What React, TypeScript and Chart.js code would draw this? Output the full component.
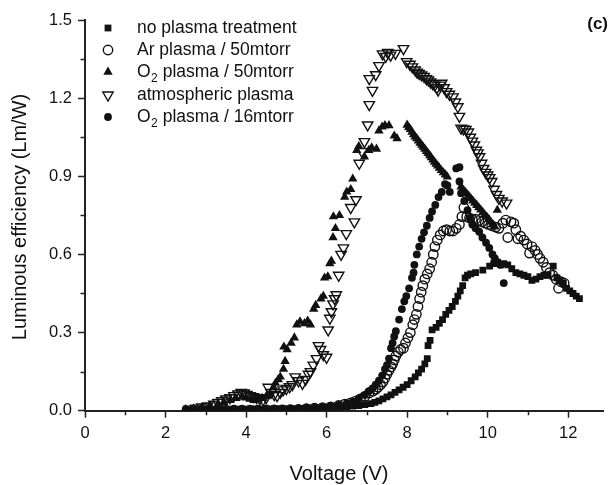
import React, { useEffect, useRef } from "react";
import { Chart, registerables } from "chart.js";
import { drawPoint } from "chart.js/helpers";

Chart.register(...registerables);

// ---- data: [voltage (V), luminous efficiency (Lm/W)] ----
const NO_PLASMA: [number, number][] = [
  [2.6,0.004],[2.75,0.004],[2.9,0.005],[3.05,0.005],[3.2,0.005],[3.35,0.005],[3.5,0.006],[3.65,0.006],[3.8,0.006],[3.95,0.006],
  [4.1,0.006],[4.25,0.007],[4.4,0.007],[4.55,0.007],[4.7,0.007],[4.85,0.008],[5.0,0.008],[5.15,0.008],[5.3,0.009],[5.45,0.009],
  [5.6,0.010],[5.75,0.010],[5.9,0.011],[6.05,0.012],[6.2,0.013],[6.35,0.014],[6.5,0.016],[6.65,0.018],[6.8,0.020],[6.95,0.023],
  [7.1,0.027],[7.2,0.032],[7.3,0.038],[7.4,0.045],[7.5,0.053],[7.6,0.061],[7.7,0.07],[7.8,0.08],[7.9,0.09],[8.0,0.1],
  [8.1,0.115],[8.2,0.13],[8.28,0.145],[8.36,0.16],[8.44,0.18],[8.5,0.2],[8.52,0.25],[8.57,0.27],[8.62,0.31],[8.72,0.32],
  [8.8,0.335],[8.88,0.35],[8.96,0.37],[9.04,0.385],[9.12,0.4],[9.2,0.42],[9.26,0.44],[9.32,0.46],[9.38,0.48],[9.44,0.51],
  [9.5,0.52],[9.58,0.525],[9.7,0.53],[9.88,0.54],[10.05,0.555],[10.15,0.565],[10.25,0.57],[10.32,0.56],[10.4,0.565],[10.5,0.56],
  [10.6,0.545],[10.7,0.53],[10.8,0.525],[10.9,0.52],[11.0,0.515],[11.1,0.5],[11.2,0.505],[11.3,0.515],[11.4,0.52],[11.5,0.52],
  [11.63,0.555],[11.72,0.51],[11.8,0.5],[11.88,0.49],[11.96,0.47],[12.04,0.46],[12.12,0.45],[12.2,0.44],[12.28,0.43],
];

const AR_50: [number, number][] = [
  [5.5,0.008],[5.7,0.01],[5.9,0.012],[6.1,0.015],[6.3,0.02],[6.45,0.025],[6.6,0.03],[6.72,0.037],[6.84,0.045],[6.95,0.055],
  [7.06,0.068],[7.15,0.075],[7.22,0.082],[7.28,0.09],[7.34,0.1],[7.4,0.11],[7.45,0.125],[7.5,0.14],[7.55,0.155],[7.6,0.168],
  [7.64,0.18],[7.68,0.195],[7.72,0.21],[7.78,0.225],[7.84,0.235],[7.91,0.24],[7.96,0.26],[8.02,0.28],[8.08,0.3],[8.14,0.33],
  [8.18,0.35],[8.23,0.37],[8.27,0.4],[8.31,0.43],[8.35,0.455],[8.39,0.48],[8.44,0.505],[8.5,0.525],[8.56,0.545],[8.61,0.57],
  [8.65,0.6],[8.69,0.63],[8.75,0.655],[8.82,0.675],[8.9,0.69],[8.98,0.695],[9.06,0.69],[9.14,0.69],[9.22,0.7],[9.3,0.715],
  [9.36,0.745],[9.41,0.78],[9.48,0.745],[9.55,0.74],[9.62,0.735],[9.7,0.735],[9.78,0.73],[9.86,0.725],[9.94,0.72],[10.02,0.715],
  [10.1,0.71],[10.2,0.705],[10.28,0.7],[10.38,0.72],[10.45,0.732],[10.5,0.665],[10.58,0.725],[10.65,0.72],[10.7,0.695],[10.75,0.66],
  [10.82,0.67],[10.9,0.655],[10.98,0.64],[11.04,0.605],[11.1,0.63],[11.18,0.615],[11.24,0.6],[11.3,0.585],[11.38,0.57],[11.46,0.55],
  [11.54,0.53],[11.62,0.52],[11.7,0.505],[11.76,0.47],[11.82,0.495],[11.9,0.49],
];

const O2_50: [number, number][] = [
  [2.5,0.005],[2.7,0.008],[2.9,0.012],[3.1,0.018],[3.3,0.025],[3.45,0.032],[3.6,0.04],[3.75,0.048],[3.9,0.052],[4.0,0.05],
  [4.1,0.045],[4.2,0.04],[4.3,0.042],[4.4,0.048],[4.5,0.055],[4.6,0.065],[4.68,0.09],[4.73,0.106],[4.8,0.12],[4.85,0.13],
  [4.93,0.16],[4.97,0.19],[4.94,0.245],[5.02,0.235],[5.12,0.26],[5.2,0.28],[5.26,0.33],[5.34,0.342],[5.45,0.335],[5.53,0.345],
  [5.6,0.33],[5.68,0.39],[5.73,0.405],[5.86,0.43],[5.92,0.44],[5.95,0.51],[6.03,0.515],[6.08,0.565],[6.12,0.575],[6.16,0.665],
  [6.22,0.7],[6.17,0.745],[6.32,0.75],[6.45,0.82],[6.5,0.84],[6.6,0.85],[6.65,0.89],[6.75,1.0],[6.8,1.015],[6.94,0.975],
  [7.05,1.0],[7.12,1.01],[7.24,1.005],[7.3,1.075],[7.38,1.09],[7.45,1.095],[7.55,1.095],[7.68,1.055],[7.75,1.045],
  [8.0,1.097],[8.04,1.088],[8.08,1.08],[8.12,1.07],[8.16,1.06],[8.2,1.052],[8.24,1.045],[8.28,1.036],[8.32,1.028],[8.36,1.02],
  [8.4,1.012],[8.44,1.005],[8.48,0.996],[8.52,0.988],[8.56,0.98],[8.6,0.972],[8.64,0.963],[8.68,0.955],[8.72,0.947],[8.76,0.94],
  [8.8,0.932],[8.85,0.923],[8.9,0.914],[8.95,0.906],[9.0,0.898],
  [9.34,0.86],[9.38,0.85],[9.43,0.842],[9.48,0.833],[9.53,0.825],[9.58,0.815],[9.63,0.806],[9.68,0.797],[9.73,0.789],[9.78,0.78],
  [9.83,0.771],[9.88,0.762],[9.93,0.752],[9.98,0.744],[10.03,0.735],[10.08,0.725],[10.13,0.715],[10.18,0.706],[10.24,0.77],
];

const ATMOSPHERIC: [number, number][] = [
  [2.6,0.006],[2.75,0.01],[2.9,0.014],[3.05,0.018],[3.2,0.025],[3.3,0.032],[3.4,0.038],[3.5,0.045],[3.6,0.05],[3.7,0.058],
  [3.8,0.064],[3.88,0.07],[3.95,0.068],[4.02,0.062],[4.1,0.058],[4.18,0.054],[4.26,0.05],[4.34,0.046],[4.42,0.042],[4.5,0.05],
  [4.55,0.09],[4.62,0.07],[4.7,0.062],[4.77,0.058],[4.85,0.07],[4.92,0.08],[5.0,0.085],[5.08,0.092],[5.15,0.1],[5.22,0.13],
  [5.3,0.115],[5.4,0.105],[5.48,0.12],[5.55,0.14],[5.6,0.15],[5.67,0.175],[5.75,0.2],[5.8,0.25],[5.85,0.235],[5.92,0.215],
  [6.0,0.205],[6.04,0.31],[6.08,0.355],[6.12,0.38],[6.16,0.41],[6.2,0.43],[6.24,0.445],[6.3,0.52],[6.36,0.6],[6.42,0.625],
  [6.49,0.68],[6.6,0.78],[6.69,0.725],[6.73,0.81],[6.81,0.95],[6.88,0.995],[6.94,1.033],[7.02,1.097],[7.06,1.175],[7.14,1.23],
  [7.06,1.275],[7.22,1.29],[7.3,1.325],[7.39,1.37],[7.47,1.36],[7.52,1.375],[7.59,1.365],[7.71,1.372],[7.91,1.39],[7.99,1.34],
  [8.07,1.33],[8.13,1.32],[8.2,1.308],[8.25,1.3],[8.3,1.295],[8.36,1.289],[8.42,1.283],[8.48,1.275],[8.53,1.27],[8.58,1.262],
  [8.64,1.255],[8.69,1.25],[8.74,1.24],[8.77,1.231],[8.82,1.25],[8.86,1.257],[8.92,1.24],[8.98,1.225],[9.05,1.215],[9.14,1.205],
  [9.2,1.185],[9.26,1.167],[9.3,1.13],[9.34,1.085],[9.4,1.082],[9.46,1.08],[9.52,1.07],[9.57,1.05],[9.62,1.035],[9.67,1.02],
  [9.72,1.0],[9.76,0.99],[9.8,0.975],[9.85,0.95],[9.9,0.93],[9.95,0.915],[10.0,0.905],[10.05,0.895],[10.1,0.88],[10.16,0.85],
  [10.22,0.83],[10.28,0.815],[10.36,0.805],[10.47,0.797],
];

const O2_16: [number, number][] = [
  [2.5,0.006],[2.7,0.006],[2.9,0.006],[3.1,0.007],[3.3,0.007],[3.5,0.007],[3.7,0.008],[3.9,0.008],[4.1,0.008],[4.3,0.008],
  [4.5,0.009],[4.7,0.009],[4.9,0.009],[5.1,0.01],[5.3,0.011],[5.5,0.012],[5.7,0.013],[5.9,0.015],[6.1,0.018],[6.3,0.022],
  [6.5,0.028],[6.65,0.036],[6.8,0.047],[6.95,0.06],[7.05,0.075],[7.14,0.086],[7.22,0.1],[7.3,0.115],[7.38,0.135],[7.45,0.16],
  [7.5,0.175],[7.55,0.2],[7.6,0.24],[7.64,0.26],[7.68,0.285],[7.72,0.305],[7.8,0.35],[7.87,0.39],[7.93,0.42],[7.98,0.44],
  [8.05,0.47],[8.12,0.51],[8.16,0.53],[8.18,0.56],[8.24,0.6],[8.3,0.63],[8.36,0.66],[8.42,0.685],[8.49,0.71],[8.56,0.74],
  [8.62,0.765],[8.7,0.79],[8.78,0.82],[8.86,0.84],[8.94,0.87],[9.0,0.865],[9.06,0.84],[9.22,0.93],[9.3,0.935],[9.3,0.88],
  [9.34,0.835],[9.42,0.805],[9.5,0.77],[9.56,0.74],[9.62,0.715],[9.7,0.7],[9.79,0.687],[9.87,0.665],[9.96,0.645],[10.04,0.625],
  [10.12,0.6],[10.18,0.585],[10.32,0.56],[10.4,0.49],
];

const X_MAJOR = [0, 2, 4, 6, 8, 10, 12];
const X_MINOR = [1, 3, 5, 7, 9, 11];
const Y_MAJOR = [0, 0.3, 0.6, 0.9, 1.2, 1.5];
const Y_MINOR = [0.15, 0.45, 0.75, 1.05, 1.35];

const X_TITLE = "Voltage (V)";
const Y_TITLE = "Luminous efficiency (Lm/W)";
const PANEL = "(c)";

const FONT = "Arial, 'Liberation Sans', Helvetica, sans-serif";
const INK = "#111";
const AXIS = "#222";

type Series = {
  label: string; sub?: [string, string, string]; data: [number, number][];
  style: string; radius: number; rotation: number; fill: string; border: number;
};

const SERIES: Series[] = [
  { label: "no plasma treatment", data: NO_PLASMA, style: "rect", radius: 4.8, rotation: 0, fill: INK, border: 0 },
  { label: "Ar plasma / 50mtorr", data: AR_50, style: "circle", radius: 4.7, rotation: 0, fill: "rgba(0,0,0,0)", border: 1.4 },
  { label: "O2 plasma / 50mtorr", sub: ["O", "2", " plasma / 50mtorr"], data: O2_50, style: "triangle", radius: 5.4, rotation: 0, fill: INK, border: 0 },
  { label: "atmospheric plasma", data: ATMOSPHERIC, style: "triangle", radius: 6.0, rotation: 180, fill: "rgba(0,0,0,0)", border: 1.4 },
  { label: "O2 plasma / 16mtorr", sub: ["O", "2", " plasma / 16mtorr"], data: O2_16, style: "circle", radius: 3.9, rotation: 0, fill: INK, border: 0 },
];

const decorPlugin = {
  id: "decor",
  afterDraw(chart: any) {
    const ctx = chart.ctx as CanvasRenderingContext2D;
    const xs = chart.scales.x;
    const ys = chart.scales.y;
    const area = chart.chartArea;
    ctx.save();
    // minor ticks
    ctx.strokeStyle = AXIS;
    ctx.lineWidth = 1.5;
    ctx.beginPath();
    X_MINOR.forEach((v) => {
      const p = Math.round(xs.getPixelForValue(v)) + 0.5;
      ctx.moveTo(p, area.bottom);
      ctx.lineTo(p, area.bottom + 4.5);
    });
    Y_MINOR.forEach((v) => {
      const p = Math.round(ys.getPixelForValue(v)) + 0.5;
      ctx.moveTo(area.left, p);
      ctx.lineTo(area.left - 4.5, p);
    });
    ctx.stroke();

    // axis titles
    ctx.fillStyle = INK;
    ctx.font = `20px ${FONT}`;
    ctx.textAlign = "center";
    ctx.textBaseline = "alphabetic";
    ctx.fillText(X_TITLE, 339, 480);
    ctx.save();
    ctx.translate(26, 217);
    ctx.rotate(-Math.PI / 2);
    ctx.fillText(Y_TITLE, 0, 0);
    ctx.restore();

    // panel label
    ctx.font = `bold 17px ${FONT}`;
    ctx.textAlign = "right";
    ctx.textBaseline = "middle";
    ctx.fillText(PANEL, 608, 24);

    // legend
    const rowY = [28, 50, 72, 95, 117];
    SERIES.forEach((s, i) => {
      const y = rowY[i];
      ctx.fillStyle = s.fill === INK ? INK : "rgba(0,0,0,0)";
      ctx.strokeStyle = INK;
      ctx.lineWidth = s.border;
      drawPoint(ctx, { pointStyle: s.style as any, radius: s.radius, rotation: s.rotation, borderWidth: s.border }, 108, y);
      ctx.fillStyle = INK;
      ctx.textAlign = "left";
      ctx.textBaseline = "middle";
      ctx.font = `17.5px ${FONT}`;
      if (s.sub) {
        let x = 137;
        ctx.fillText(s.sub[0], x, y);
        x += ctx.measureText(s.sub[0]).width;
        ctx.font = `12px ${FONT}`;
        ctx.fillText(s.sub[1], x + 0.5, y + 7);
        x += ctx.measureText(s.sub[1]).width + 0.5;
        ctx.font = `17.5px ${FONT}`;
        ctx.fillText(s.sub[2], x, y);
      } else {
        ctx.fillText(s.label, 137, y);
      }
    });
    ctx.restore();
  },
};

export default function App() {
  const ref = useRef<HTMLCanvasElement | null>(null);
  useEffect(() => {
    if (!ref.current) return;
    const chart = new Chart(ref.current, {
      type: "scatter",
      data: {
        datasets: SERIES.map((s) => ({
          label: s.label,
          data: s.data.map(([x, y]) => ({ x, y })),
          pointStyle: s.style as any,
          pointRadius: s.radius,
          pointRotation: s.rotation,
          pointBackgroundColor: s.fill,
          pointBorderColor: INK,
          pointBorderWidth: s.border,
          showLine: false,
        })),
      },
      options: {
        responsive: false,
        animation: false,
        events: [],
        layout: { padding: { left: 0, top: 20, right: 0, bottom: 0 } },
        plugins: { legend: { display: false }, tooltip: { enabled: false } },
        scales: {
          x: {
            type: "linear",
            min: 0,
            max: 12.88,
            afterFit: (s: any) => { s.height = 74.3; },
            afterBuildTicks: (s: any) => { s.ticks = X_MAJOR.map((v) => ({ value: v })); },
            ticks: {
              color: INK, font: { family: FONT, size: 16.5 }, padding: 6,
              maxRotation: 0, autoSkip: false,
              callback: (v: any) => String(v),
            },
            grid: { drawOnChartArea: false, drawTicks: true, tickLength: 7, tickWidth: 1.5, tickColor: AXIS },
            border: { color: AXIS, width: 2 },
          },
          y: {
            type: "linear",
            min: 0,
            max: 1.5,
            afterFit: (s: any) => { s.width = 85; },
            afterBuildTicks: (s: any) => { s.ticks = Y_MAJOR.map((v) => ({ value: v })); },
            ticks: {
              color: INK, font: { family: FONT, size: 16.5 }, padding: 6, autoSkip: false,
              callback: (v: any) => Number(v).toFixed(1),
            },
            grid: { drawOnChartArea: false, drawTicks: true, tickLength: 7, tickWidth: 1.5, tickColor: AXIS },
            border: { color: AXIS, width: 2 },
          },
        },
      },
      plugins: [decorPlugin],
    });
    return () => chart.destroy();
  }, []);
  return (
    <div style={{ position: "absolute", left: 0, top: 0, width: 611, height: 485, background: "#fff" }}>
      <canvas ref={ref} width={611} height={485} style={{ display: "block" }} />
    </div>
  );
}
